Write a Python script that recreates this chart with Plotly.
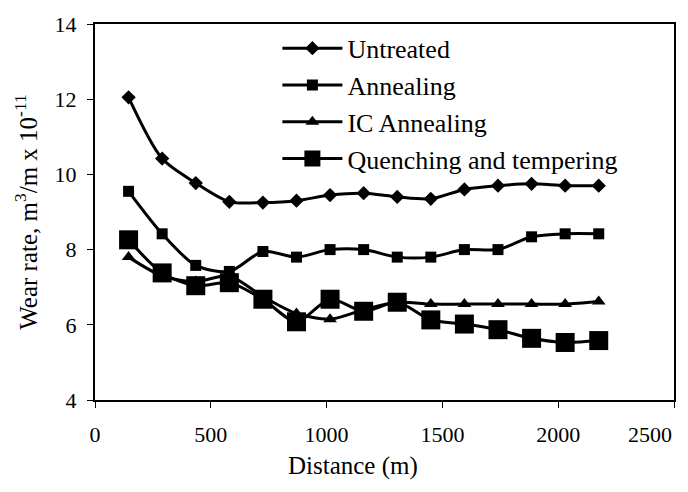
import plotly.graph_objects as go

distance = [145, 290, 435, 580, 725, 870, 1015, 1160, 1305, 1450, 1595, 1740, 1885, 2030, 2175]
untreated = [12.05, 10.42, 9.77, 9.27, 9.25, 9.3, 9.45, 9.5, 9.4, 9.35, 9.6, 9.7, 9.75, 9.7, 9.7]
annealing = [9.55, 8.42, 7.58, 7.42, 7.95, 7.8, 8.0, 8.0, 7.8, 7.8, 8.0, 8.0, 8.34, 8.42, 8.42]
ic_annealing = [7.8, 7.3, 7.15, 7.3, 6.75, 6.3, 6.15, 6.4, 6.6, 6.55, 6.55, 6.55, 6.55, 6.55, 6.62]
quench_temper = [8.26, 7.38, 7.04, 7.12, 6.68, 6.08, 6.68, 6.36, 6.6, 6.13, 6.02, 5.87, 5.64, 5.53, 5.58]

x_ticks = [0, 500, 1000, 1500, 2000, 2500]
x_ticktext = ["0", "500", "1000", "1500", "2000", ""]
last_x_label = "2500"
y_ticks = [4, 6, 8, 10, 12, 14]

series = [
    ("Untreated", untreated, "diamond", 11),
    ("Annealing", annealing, "square", 11),
    ("IC Annealing", ic_annealing, "triangle-up", 12),
    ("Quenching and tempering", quench_temper, "square", 19),
]

FONT = "Liberation Serif, Times New Roman, serif"

fig = go.Figure()
for name, vals, sym, size in series:
    fig.add_trace(go.Scatter(
        x=distance, y=vals, name=name, mode="lines+markers",
        line=dict(color="black", width=3, shape="spline", smoothing=0.8),
        marker=dict(symbol=sym, size=size, color="black", line=dict(width=0)),
    ))

fig.update_layout(
    width=688, height=492,
    margin=dict(l=95, r=12, t=15, b=92),
    paper_bgcolor="white", plot_bgcolor="white",
    font=dict(family=FONT, size=22, color="black"),
    showlegend=True,
    legend=dict(
        x=0.315, y=0.998, xanchor="left", yanchor="top",
        bgcolor="rgba(0,0,0,0)", font=dict(family=FONT, size=26, color="black"),
        tracegroupgap=0, itemwidth=60,
    ),
    xaxis=dict(
        range=[0, 2500], tickvals=x_ticks, ticktext=x_ticktext,
        showgrid=False, zeroline=False, showline=True, linecolor="black", linewidth=2,
        mirror=True, ticks="outside", ticklen=6, tickcolor="black",
        ticklabelstandoff=8,
        tickfont=dict(family=FONT, size=22, color="black"),
    ),
    yaxis=dict(
        range=[4, 14], tickvals=y_ticks,
        showgrid=False, zeroline=False, showline=True, linecolor="black", linewidth=2,
        mirror=True, ticks="outside", ticklen=6, tickcolor="black",
        ticklabelstandoff=6,
        tickfont=dict(family=FONT, size=22, color="black"),
        title=dict(text="Wear rate, m<sup>3</sup>/m x 10<sup>-11</sup>",
                   font=dict(family=FONT, size=25, color="black"), standoff=10),
    ),
    annotations=[
        dict(text=last_x_label, x=2500, xref="x", y=0, yref="paper",
             xanchor="right", yanchor="top", yshift=-20, showarrow=False,
             font=dict(family=FONT, size=22, color="black")),
        dict(text="Distance (m)", x=0.445, xref="paper", y=0, yref="paper",
             xanchor="center", yanchor="top", yshift=-50, showarrow=False,
             font=dict(family=FONT, size=25, color="black")),
    ],
)

fig.write_html("out.html", config={"displayModeBar": False},
               post_script="document.body.style.margin='0';document.body.style.overflow='hidden';")
